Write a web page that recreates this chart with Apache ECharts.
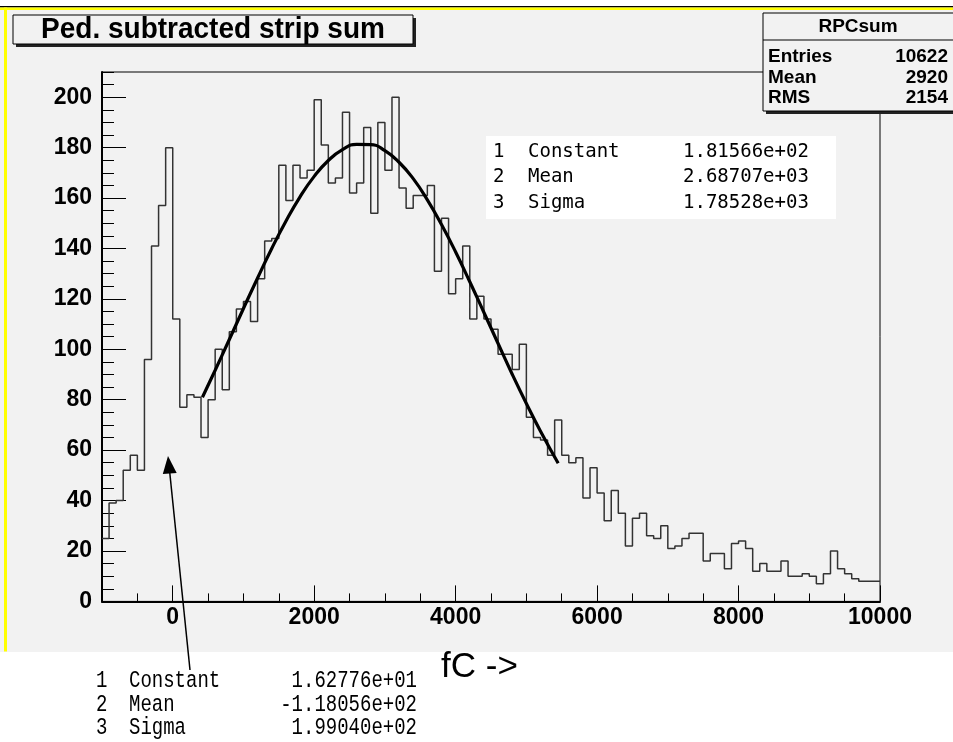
<!DOCTYPE html>
<html><head><meta charset="utf-8">
<script src="https://cdn.jsdelivr.net/npm/echarts@6/dist/echarts.min.js"></script>
<style>html,body{margin:0;padding:0;background:#fff;}#c{width:953px;height:742px;}</style>
</head><body><div id="c"></div>
<script>
// ---- data ----
const binStart = -1000;
const binWidth = 100;
const counts = [
  25, 39, 40, 52, 58, 52, 96, 141, 157, 180,
  112, 77, 82, 81, 65, 80, 100, 84, 107, 116,
  119, 111, 128, 143, 144, 173, 159, 173, 168, 171,
  199, 181, 166, 168, 194, 162, 166, 188, 154, 190,
  171, 200, 164, 156, 161, 161, 165, 131, 152, 122,
  128, 141, 112, 121, 112, 108, 98, 98, 92, 102,
  73, 65, 64, 58, 72, 58, 55, 57, 41, 53,
  43, 32, 44, 35, 22, 33, 35, 26, 25, 30,
  21, 22, 25, 27, 27, 16, 19, 19, 13, 23,
  24, 21, 12, 15, 12, 12, 16, 10, 10, 11,
  10, 7, 11, 20, 13, 11, 9, 8, 8, 8
];
const fitX = [420, 600, 800, 1000, 1200, 1400, 1600, 1800, 2000, 2200, 2400, 2600, 2800,
  3000, 3200, 3400, 3600, 3800, 4000, 4200, 4400, 4600, 4800, 5000, 5200, 5450];
const fitY = [81, 91.7, 103.9, 116.2, 128.3, 140, 150.8, 160.5, 168.6, 174.9, 179.2, 181.3, 181.2,
  178.8, 174.2, 167.7, 159.3, 149.5, 138.6, 126.8, 114.6, 102.3, 90.1, 78.5, 67.5, 54.8];
const xTickLabels = [0, 2000, 4000, 6000, 8000, 10000];
const yTickLabels = [0, 20, 40, 60, 80, 100, 120, 140, 160, 180, 200];
const titleText = 'Ped. subtracted strip sum';
const statsName = 'RPCsum';
const statsRows = ['Entries', 'Mean', 'RMS'];
const statsVals = ['10622', '2920', '2154'];
const fitParIdx = ['1', '2', '3'];
const fitParNames = ['Constant', 'Mean', 'Sigma'];
const fit1Vals = ['1.81566e+02', '2.68707e+03', '1.78528e+03'];
const fit2Vals = ['1.62776e+01', '-1.18056e+02', '1.99040e+02'];
const xAxisTitle = 'fC ->';

// ---- build ----
const histData = counts.map((v, i) => [binStart + i * binWidth, v]);
histData.push([binStart + counts.length * binWidth, counts[counts.length - 1]]);
const fitData = fitX.map((x, i) => [x, fitY[i]]);

const chart = echarts.init(document.getElementById('c'), null, {renderer: 'canvas'});
const SANS = '"Liberation Sans", Arial, sans-serif';
const MONO = '"DejaVu Sans Mono", monospace';
const MONO2 = '"Liberation Mono", monospace';
const plain = v => String(v);

const g = [];
// canvas background + yellow border
g.push({type: 'rect', z: -10, shape: {x: 0, y: 8, width: 953, height: 644}, style: {fill: '#f2f2f2'}});
g.push({type: 'rect', z: -9, shape: {x: 0, y: 6, width: 953, height: 1.5}, style: {fill: '#000'}});
g.push({type: 'rect', z: -9, shape: {x: 0, y: 7.5, width: 953, height: 2.5}, style: {fill: '#ffff00'}});
g.push({type: 'rect', z: -9, shape: {x: 4, y: 7.5, width: 3, height: 644}, style: {fill: '#ffff00'}});
// title box
g.push({type: 'rect', z: 40, shape: {x: 16, y: 18, width: 400, height: 29}, style: {fill: '#222'}});
g.push({type: 'rect', z: 41, shape: {x: 13, y: 15, width: 400, height: 29}, style: {fill: '#f2f2f2', stroke: '#000', lineWidth: 1}});
g.push({type: 'text', z: 42, x: 213, y: 30, scaleY: 1.08, style: {text: titleText, fontFamily: SANS, fontWeight: 'bold', fontSize: 28, fill: '#000', align: 'center', verticalAlign: 'middle'}});
// stats box
g.push({type: 'rect', z: 40, shape: {x: 766, y: 16, width: 190, height: 98}, style: {fill: '#222'}});
g.push({type: 'rect', z: 41, shape: {x: 763, y: 13, width: 195, height: 98}, style: {fill: '#f2f2f2', stroke: '#000', lineWidth: 1}});
g.push({type: 'line', z: 42, shape: {x1: 763, y1: 40, x2: 953, y2: 40}, style: {stroke: '#000', lineWidth: 1}});
g.push({type: 'text', z: 42, x: 858, y: 27, style: {text: statsName, fontFamily: SANS, fontWeight: 'bold', fontSize: 19, fill: '#000', align: 'center', verticalAlign: 'middle'}});
statsRows.forEach((r, i) => {
  g.push({type: 'text', z: 42, x: 768, y: 57 + i * 20.5, style: {text: r, fontFamily: SANS, fontWeight: 'bold', fontSize: 19, fill: '#000', align: 'left', verticalAlign: 'middle'}});
  g.push({type: 'text', z: 42, x: 948, y: 57 + i * 20.5, style: {text: statsVals[i], fontFamily: SANS, fontWeight: 'bold', fontSize: 19, fill: '#000', align: 'right', verticalAlign: 'middle'}});
});
// fit box (main gaussian)
g.push({type: 'rect', z: 50, shape: {x: 486, y: 136, width: 350, height: 83}, style: {fill: '#fff'}});
fitParNames.forEach((n, i) => {
  const y = 152 + i * 25.5;
  g.push({type: 'text', z: 51, x: 493, y: y, style: {text: fitParIdx[i], fontFamily: MONO, fontSize: 19, fill: '#000', align: 'left', verticalAlign: 'middle'}});
  g.push({type: 'text', z: 51, x: 528, y: y, style: {text: n, fontFamily: MONO, fontSize: 19, fill: '#000', align: 'left', verticalAlign: 'middle'}});
  g.push({type: 'text', z: 51, x: 683, y: y, style: {text: fit1Vals[i], fontFamily: MONO, fontSize: 19, fill: '#000', align: 'left', verticalAlign: 'middle'}});
});
// fit box (pedestal gaussian) below the canvas
fitParNames.forEach((n, i) => {
  const y = 681 + i * 23.5;
  const common = {fontFamily: MONO2, fontSize: 19, fill: '#000', verticalAlign: 'middle'};
  g.push({type: 'text', z: 51, x: 96, y: y, scaleY: 1.25, style: Object.assign({text: fitParIdx[i], align: 'left'}, common)});
  g.push({type: 'text', z: 51, x: 129, y: y, scaleY: 1.25, style: Object.assign({text: n, align: 'left'}, common)});
  g.push({type: 'text', z: 51, x: 417, y: y, scaleY: 1.25, style: Object.assign({text: fit2Vals[i], align: 'right'}, common)});
});
g.push({type: 'text', z: 51, x: 441, y: 667, style: {text: xAxisTitle, fontFamily: SANS, fontSize: 35, fill: '#000', align: 'left', verticalAlign: 'middle'}});
// arrow
g.push({type: 'line', z: 60, shape: {x1: 190, y1: 670, x2: 169.7, y2: 472}, style: {stroke: '#000', lineWidth: 1.5}});
g.push({type: 'polygon', z: 60, shape: {points: [[168, 456], [176.7, 473], [162.8, 474]]}, style: {fill: '#000'}});

const option = {
  backgroundColor: '#fff',
  animation: false,
  grid: {left: 102, top: 72, width: 778, height: 529.4, show: true, borderColor: '#000', borderWidth: 1, backgroundColor: 'transparent', containLabel: false},
  xAxis: [
    {type: 'value', position: 'bottom', min: -1000, max: 10000, interval: 500,
      axisLine: {show: true, onZero: false, lineStyle: {color: '#000', width: 2}},
      axisTick: {show: true, inside: true, length: 8, lineStyle: {color: '#000', width: 1}},
      axisLabel: {show: false}, splitLine: {show: false}},
    {type: 'value', position: 'bottom', min: -1000, max: 10000,
      axisLine: {show: false, onZero: false},
      axisTick: {show: true, inside: true, length: 16, customValues: xTickLabels, lineStyle: {color: '#000', width: 1}},
      axisLabel: {show: true, customValues: xTickLabels, formatter: plain, margin: 5, color: '#000', fontFamily: SANS, fontWeight: 'bold', fontSize: 23},
      splitLine: {show: false}}
  ],
  yAxis: [
    {type: 'value', position: 'left', min: 0, max: 210, interval: 5,
      axisLine: {show: true, onZero: false, lineStyle: {color: '#000', width: 2}},
      axisTick: {show: true, inside: true, length: 12, lineStyle: {color: '#000', width: 1}},
      axisLabel: {show: false}, splitLine: {show: false}},
    {type: 'value', position: 'left', min: 0, max: 210,
      axisLine: {show: false, onZero: false},
      axisTick: {show: true, inside: true, length: 24, customValues: yTickLabels, lineStyle: {color: '#000', width: 1}},
      axisLabel: {show: true, customValues: yTickLabels, formatter: plain, margin: 10, color: '#000', fontFamily: SANS, fontWeight: 'bold', fontSize: 23},
      splitLine: {show: false}}
  ],
  series: [
    {type: 'line', name: 'RPCsum', xAxisIndex: 0, yAxisIndex: 0, step: 'end', data: histData, symbol: 'none',
      lineStyle: {color: '#333', width: 1.5}, z: 2},
    {type: 'line', name: 'fit', xAxisIndex: 0, yAxisIndex: 0, data: fitData, smooth: true, symbol: 'none',
      lineStyle: {color: '#000', width: 3.2}, z: 3}
  ],
  graphic: {elements: g}
};
chart.setOption(option);
</script>
</body></html>
